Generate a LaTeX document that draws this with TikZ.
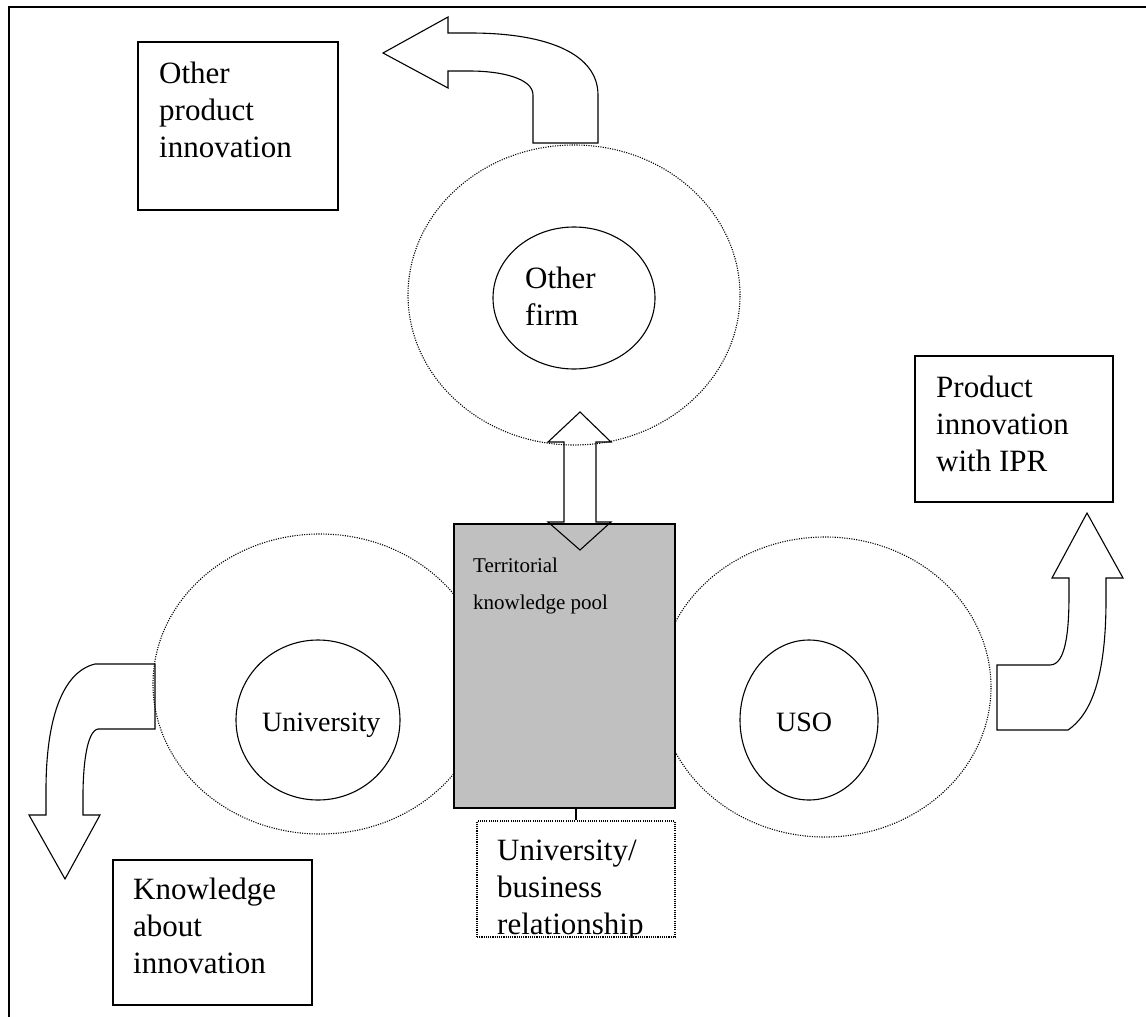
\documentclass[tikz,border=0pt]{standalone}
\usepackage{fontspec}
\setmainfont{Liberation Serif}
\usetikzlibrary{shapes.geometric}
\definecolor{poolgrey}{RGB}{192,192,192}
\begin{document}
\begin{tikzpicture}[x=1pt,y=-1pt,
  box/.style={draw, line width=1.1pt, rectangle, inner sep=0pt},
  dotbox/.style={draw, line width=1.2pt, dash pattern=on 1.1pt off 1.1pt, rectangle, inner sep=0pt},
  ring/.style={draw, line width=1.1pt, dash pattern=on 1.1pt off 1.3pt, ellipse, inner sep=0pt},
  oval/.style={draw, line width=1.1pt, ellipse, inner sep=0pt},
  txt/.style={anchor=base west, inner sep=0pt, font=\fontsize{31}{37}\selectfont},
  midtxt/.style={anchor=base west, inner sep=0pt, font=\fontsize{28}{33}\selectfont},
  smalltxt/.style={anchor=base west, inner sep=0pt, font=\fontsize{21}{25}\selectfont},
  blockarrow/.style={draw, line width=1.1pt, line join=miter}]
\useasboundingbox (0,0) rectangle (1146,1017);
% frame
\draw[line width=1.1pt] (9,1017) -- (9,7) -- (1146,7);
% dotted rings
\node[ring, minimum width=332pt, minimum height=300pt] (ringT) at (574,295) {};
\node[ring, minimum width=334pt, minimum height=300pt] (ringL) at (320,684) {};
\node[ring, minimum width=332pt, minimum height=300pt] (ringR) at (825,687) {};
% inner ovals
\node[oval, minimum width=162pt, minimum height=142pt] (firm) at (574,298) {};
\node[oval, minimum width=164pt, minimum height=160pt] (uni) at (318,720) {};
\node[oval, minimum width=138pt, minimum height=160pt] (uso) at (809,720) {};
\node[txt] (firmA) at (525,288) {Other};
\node[txt] (firmB) at (525,325) {firm};
\node[midtxt] (unit) at (262,731) {University};
\node[midtxt] (usot) at (776,731) {USO};
% knowledge pool
\node[box, fill=poolgrey, minimum width=221pt, minimum height=284pt] (pool) at (564.5,666) {};
\node[smalltxt] (poolA) at (473,572) {Territorial};
\node[smalltxt] (poolB) at (473,609) {knowledge pool};
% double arrow
\draw[blockarrow] (564,442) -- (548,442) -- (580,412) -- (611,442) -- (596,442)
  -- (596,522) -- (611,522) -- (580,550) -- (548,522) -- (564,522) -- cycle;
% university/business box
\node[dotbox, minimum width=198pt, minimum height=116pt] (ub) at (576,879) {};
\draw[line width=1.1pt] (ub.north) -- (ub.north |- pool.south);
\begin{scope}
\clip (ub.south west) rectangle (ub.north east);
\node[txt] (ubA) at (497,860) {University/};
\node[txt] (ubB) at (497,897) {business};
\node[txt] (ubC) at (497,934) {relationship};
\end{scope}
% outcome boxes
\node[box, minimum width=200pt, minimum height=168pt] (opi) at (238,126) {};
\node[txt] (opiA) at (159,83) {Other};
\node[txt] (opiB) at (159,120) {product};
\node[txt] (opiC) at (159,157) {innovation};
\node[box, minimum width=198pt, minimum height=146pt] (pi) at (1014,429) {};
\node[txt] (piA) at (936,397) {Product};
\node[txt] (piB) at (936,434) {innovation};
\node[txt] (piC) at (936,471) {with IPR};
\node[box, minimum width=199pt, minimum height=145pt] (kai) at (212.5,932.5) {};
\node[txt] (kaiA) at (133,899) {Knowledge};
\node[txt] (kaiB) at (133,936) {about};
\node[txt] (kaiC) at (133,973) {innovation};
% top bent arrow
\draw[blockarrow] (533,143) -- (533,95) .. controls (533,78) and (500,71) .. (470,71)
  -- (448,71) -- (448,88) -- (383,53) -- (448,17) -- (448,33) -- (470,33)
  .. controls (550,33) and (598,55) .. (598,95) -- (598,143) -- cycle;
% right bent arrow
\draw[blockarrow] (997,665) -- (1050,665) .. controls (1066,665) and (1069,630) .. (1069,595)
  -- (1069,578) -- (1052,578) -- (1087,513) -- (1123,578) -- (1106,578) -- (1106,600)
  .. controls (1106,680) and (1090,715) .. (1068,730) -- (997,730) -- cycle;
% left bent arrow
\draw[blockarrow] (155,729) -- (98,729) .. controls (86,731) and (83,770) .. (83,795)
  -- (83,815) -- (100,815) -- (65,879) -- (29,815) -- (46,815) -- (46,790)
  .. controls (46,720) and (62,672) .. (95,664) -- (155,664) -- cycle;
\end{tikzpicture}
\end{document}
